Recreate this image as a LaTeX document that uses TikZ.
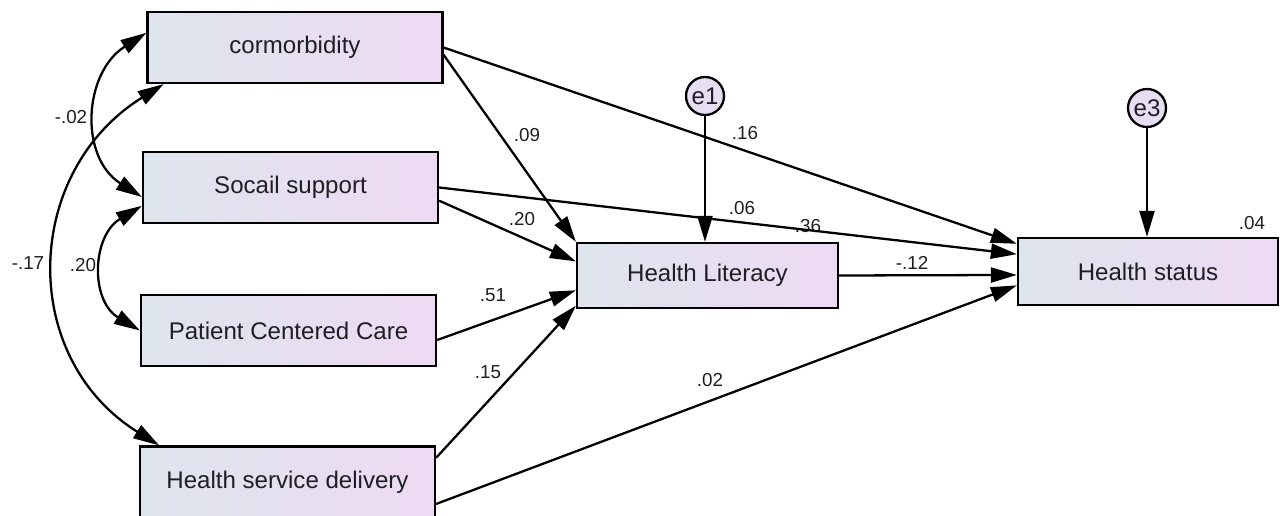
\documentclass[tikz,border=0pt]{standalone}
\usepackage{fontspec}
\setmainfont{Liberation Sans}
\usetikzlibrary{arrows.meta,calc}
\definecolor{boxleft}{RGB}{222,229,237}
\definecolor{boxright}{RGB}{238,218,243}
\definecolor{errfill}{RGB}{231,222,243}
\definecolor{txt}{RGB}{30,30,35}

\begin{document}
\begin{tikzpicture}
      [%%%%%%%%%%%%%%%%%%%%%%%%%%%%%%
      x=0.02cm,y=-0.02cm,
      box/.style={rectangle,draw=black,line width=1.3pt,left color=boxleft,right color=boxright,
        minimum width=5.9cm,minimum height=1.42cm,text=txt,font=\fontsize{13.7}{16}\selectfont},
      err/.style={circle,draw=black,line width=1.3pt,fill=errfill,minimum size=0.76cm,inner sep=0pt,
        text=txt,font=\fontsize{13.7}{16}\selectfont},
      coef/.style={inner sep=0pt,text=txt,font=\fontsize{10.7}{12}\selectfont},
      path/.style={-{Triangle[length=0.52cm,width=0.3cm]},line width=1.3pt},
      cov/.style={{Triangle[length=0.52cm,width=0.3cm]}-{Triangle[length=0.52cm,width=0.3cm]},line width=1.3pt},
      ]%%%%%%%%%%%%%%%%%%%%%%%%%%%%%%
      \useasboundingbox (0,0) rectangle (1280,516);

      % observed variables
      \node[box] (cor) at (295,47.5) {cormorbidity};
      \node[box] (soc) at (290.5,187.5) {Socail support};
      \node[box] (pcc) at (288.5,330.5) {Patient Centered Care};
      \node[box] (hsd) at (287.5,482) {Health service delivery};
      \node[box,minimum width=5.22cm,minimum height=1.3cm] (hl) at (707.5,275.5) {Health Literacy};
      \node[box,minimum width=5.2cm,minimum height=1.34cm] (hs) at (1148,271.5) {Health status};

      % errors
      \node[err] (e1) at (705,96) {e1};
      \node[err] (e3) at (1147,108) {e3};

      % estimates
      \node[coef] (c09) at (527,135) {.09};
      \node[coef] (c16) at (745,133) {.16};
      \node[coef] (c06) at (742,208) {.06};
      \node[coef] (r36) at (808,226) {.36};
      \node[coef] (c20) at (522,219) {.20};
      \node[coef] (c51) at (493,295) {.51};
      \node[coef] (c15) at (488,372) {.15};
      \node[coef] (c02) at (710,380) {.02};
      \node[coef] (c12) at (912,263) {-.12};
      \node[coef] (r04) at (1252,223) {.04};
      \node[coef] (k02) at (71,117) {-.02};
      \node[coef] (k20) at (83,265) {.20};
      \node[coef] (k17) at (28,263) {-.17};

      % paths
      \draw[path] ($(cor.north east)!0.6!(cor.south east)$) -- (hl.north west);
      \draw[path] ($(cor.north east)!0.5!(cor.south east)$) -- ($(hs.north west)!0.1!(hs.south west)$);
      \draw[path] (soc.east) -- ($(hs.north west)!0.25!(hs.south west)$);
      \draw[path] ($(soc.north east)!0.68!(soc.south east)$) -- ($(hl.north west)!0.29!(hl.south west)$);
      \draw[path] ($(pcc.north east)!0.63!(pcc.south east)$) -- ($(hl.north west)!0.72!(hl.south west)$);
      \draw[path] ($(hsd.north east)!0.17!(hsd.south east)$) -- ($(hl.north west)!0.95!(hl.south west)$);
      \draw[path] ($(hsd.north east)!0.8!(hsd.south east)$) -- ($(hs.north west)!0.7!(hs.south west)$);
      \draw[path] (hl.east) -- ($(hs.north west)!0.55!(hs.south west)$);
      \draw[path] (e1) -- (e1 |- hl.north);
      \draw[path] (e3) -- (e3 |- hs.north);

      % covariances
      \draw[cov] ($(cor.north west)!0.3!(cor.south west)$) .. controls +(-63,40) and +(-63,-40) .. ($(soc.north west)!0.63!(soc.south west)$);
      \draw[cov] ($(soc.north west)!0.75!(soc.south west)$) .. controls +(-50,30) and +(-50,-30) .. (pcc.west);
      \draw[cov] ($(cor.south west)!0.058!(cor.south east)$) .. controls +(-141,88) and +(-141,-88) .. ($(hsd.north west)!0.068!(hsd.north east)$);
    \end{tikzpicture}
\end{document}
